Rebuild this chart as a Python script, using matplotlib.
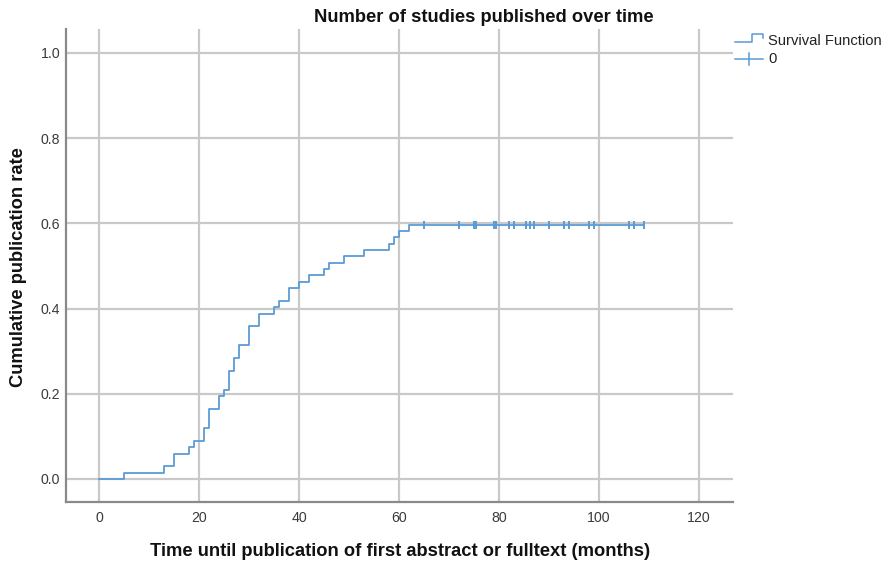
import numpy as np
import matplotlib
matplotlib.use("Agg")
import matplotlib.pyplot as plt
from matplotlib.lines import Line2D

plt.rcParams['font.family'] = ['Liberation Sans', 'DejaVu Sans']

# Kaplan-Meier input: months at which publications occurred and how many at each
event_months = [5, 13, 15, 18, 19, 21, 22, 24, 25, 26, 27, 28, 30, 32, 35, 36,
                38, 40, 42, 45, 46, 49, 53, 58, 59, 60, 62]
events_at_month = [1, 1, 2, 1, 1, 2, 3, 2, 1, 3, 2, 2, 3, 2, 1, 1,
                   2, 1, 1, 1, 1, 1, 1, 1, 1, 1, 1]
n_studies = 67
# follow-up times of studies not (yet) published
censored_months = [65, 72, 75, 75.4, 79, 79.4, 82, 83, 85.3, 86.2, 87, 90,
                   93, 94, 98, 99, 106, 107, 109]

x_ticks = [0, 20, 40, 60, 80, 100, 120]
y_ticks = [0.0, 0.2, 0.4, 0.6, 0.8, 1.0]

title = "Number of studies published over time"
x_label = "Time until publication of first abstract or fulltext (months)"
y_label = "Cumulative publication rate"
legend_labels = ["Survival Function", "0"]

# cumulative incidence = 1 - KM survival
at_risk = n_studies
surv = 1.0
cum = []
for d in events_at_month:
    surv *= (at_risk - d) / at_risk
    at_risk -= d
    cum.append(1.0 - surv)

step_x = [0] + event_months + [max(censored_months)]
step_y = [0.0] + cum + [cum[-1]]

W, H = 883, 563
fig = plt.figure(figsize=(W / 100, H / 100), dpi=100)
fig.patch.set_facecolor("white")

# axes box in pixel coordinates
left, right, top, bottom = 66, 733, 29, 502
ax = fig.add_axes([left / W, 1 - bottom / H, (right - left) / W, (bottom - top) / H])

line_col = "#5b9bd5"
grid_col = "#c9c9c9"

ax.step(step_x, step_y, where="post", color=line_col, lw=1.3, zorder=3)
ax.plot(censored_months, [cum[-1]] * len(censored_months), linestyle="none",
        marker="|", markersize=6, markeredgewidth=1.4, color=line_col, zorder=4)

ax.set_xlim(-6.6, 126.8)
ax.set_ylim(-0.054, 1.056)
ax.set_xticks(x_ticks)
ax.set_yticks(y_ticks)
ax.set_xticklabels([str(t) for t in x_ticks])
ax.set_yticklabels([f"{t:.1f}" for t in y_ticks])
ax.tick_params(axis="both", length=0, labelsize=10.2, colors="#3a3a3a")
ax.tick_params(axis="y", pad=4.3)
ax.tick_params(axis="x", pad=6.8)

ax.grid(True, color=grid_col, lw=1.6, zorder=0)
ax.set_axisbelow(True)
for s in ["top", "right"]:
    ax.spines[s].set_visible(False)
for s in ["left", "bottom"]:
    ax.spines[s].set_color("#8a8a8a")
    ax.spines[s].set_linewidth(1.6)

fig.text(484 / W, 1 - 17 / H, title, ha="center", va="center",
         fontsize=13.2, fontweight="bold", color="#111111")
fig.text(400 / W, 1 - 551 / H, x_label, ha="center", va="center",
         fontsize=13.2, fontweight="bold", color="#111111")
fig.text(19 / W, 1 - 267 / H, y_label, ha="center", va="center", rotation=90,
         fontsize=13.2, fontweight="bold", color="#111111")


def px(x, y):
    return x / W, 1 - y / H


# legend symbols drawn in figure pixels
xs, ys = zip(*[px(735, 42), px(751.5, 42), px(751.5, 34), px(762.5, 34), px(762.5, 37.5)])
fig.add_artist(Line2D(xs, ys, color=line_col, lw=1.1, transform=fig.transFigure))
xs, ys = zip(*[px(735, 59), px(763, 59)])
fig.add_artist(Line2D(xs, ys, color=line_col, lw=1.1, transform=fig.transFigure))
xs, ys = zip(*[px(749, 53), px(749, 65)])
fig.add_artist(Line2D(xs, ys, color=line_col, lw=1.1, transform=fig.transFigure))
fig.text(768 / W, 1 - 41 / H, legend_labels[0], ha="left", va="center",
         fontsize=10.6, color="#222222")
fig.text(768 / W, 1 - 59 / H, legend_labels[1], ha="left", va="center",
         fontsize=10.6, color="#222222")

fig.savefig("out.png", dpi=100, facecolor="white")
